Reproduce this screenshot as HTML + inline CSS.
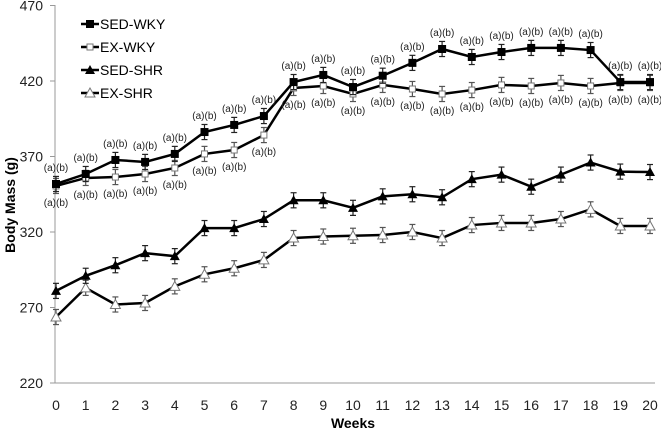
<!DOCTYPE html>
<html><head><meta charset="utf-8"><style>
body{margin:0;background:#fff}
svg{display:block;font-family:"Liberation Sans",sans-serif}
</style></head><body>
<svg id="c" width="661" height="430"></svg>
<script>
const weeks=[0,1,2,3,4,5,6,7,8,9,10,11,12,13,14,15,16,17,18,19,20];
const yTicks=[220,270,320,370,420,470];
const sedWky=[351.8,358.4,367.7,366.4,371.7,386.2,390.9,396.8,419.3,424,416,423.5,432,441.2,435.9,439.2,441.9,441.9,440.5,419.3,419.3];
const exWky=[350.5,355.8,356.4,358.4,362.4,371.7,374.3,384.2,415.4,416.7,411.4,417.4,414.7,411.4,414,417.4,416.7,418.7,416.7,418.7,418.7];
const sedShr=[281,291,298,306,304,322.6,322.6,328.6,341,341,336,343.6,345,343,355,358,350,358,366,360,359.7];
const exShr=[263.7,283,272,273,284,292,296,301.5,316,317,317.5,318,320,316,324.6,326,326,328.6,335,324,324];
const errSed=5,errEx=5;
const NS='http://www.w3.org/2000/svg';
const svg=document.getElementById('c');
const X=w=>56+w*29.7;
const Y=v=>383-(v-220)*1.51;
function mk(t,a,p){const e=document.createElementNS(NS,t);for(const k in a)e.setAttribute(k,a[k]);(p||svg).appendChild(e);return e;}
let ax=mk('line',{x1:55,y1:5,x2:55,y2:383,stroke:'#999','stroke-width':1});


let bx=mk('line',{x1:55,y1:383,x2:655,y2:383,stroke:'#999','stroke-width':1});


yTicks.forEach(v=>{
 mk('line',{x1:50,y1:Y(v),x2:55,y2:Y(v),stroke:'#999'});
 const t=mk('text',{x:43,y:Y(v)+5,'text-anchor':'end','font-size':14,fill:'#222'});t.textContent=v;
 
 
});
weeks.forEach(w=>{
 const t=mk('text',{x:X(w),y:410,'text-anchor':'middle','font-size':14,fill:'#222'});t.textContent=w;
 
 
});
let xt=mk('text',{x:353,y:428,'text-anchor':'middle','font-size':14,'font-weight':'bold'});xt.textContent='Weeks';


let yt=mk('text',{x:0,y:0,'text-anchor':'middle','font-size':14,'font-weight':'bold',transform:'translate(15,205) rotate(-90)'});yt.textContent='Body Mass  (g)';


function marker(g,type,x,y){
 if(type==='sq')mk('rect',{x:x-4,y:y-4,width:8,height:8,fill:'#000'},g);
 else if(type==='osq')mk('rect',{x:x-3,y:y-3,width:6,height:6,fill:'#fff',stroke:'#777','stroke-width':1},g);
 else if(type==='tri')mk('polygon',{points:`${x},${y-5} ${x-5},${y+4} ${x+5},${y+4}`,fill:'#000'},g);
 else mk('polygon',{points:`${x},${y-5} ${x-5},${y+4} ${x+5},${y+4}`,fill:'#fff',stroke:'#777'},g);
}
function series(name,vals,type,err,color){
 const g=mk('g',{});
 
 
 mk('polyline',{points:vals.map((v,i)=>X(weeks[i])+','+Y(v)).join(' '),fill:'none',stroke:'#000','stroke-width':2.5},g);
 vals.forEach((v,i)=>{
  const x=X(weeks[i]),y1=Y(v+err),y2=Y(v-err);
  mk('line',{x1:x,y1:y1,x2:x,y2:y2,stroke:color,'stroke-width':1.2},g);
  mk('line',{x1:x-3,y1:y1,x2:x+3,y2:y1,stroke:color,'stroke-width':1.2},g);
  mk('line',{x1:x-3,y1:y2,x2:x+3,y2:y2,stroke:color,'stroke-width':1.2},g);
  marker(g,type,x,Y(v));
 });
}
series('series-ex-shr',exShr,'otri',errEx,'#555');
series('series-sed-shr',sedShr,'tri',errSed,'#222');
series('series-ex-wky',exWky,'osq',errEx,'#555');
series('series-sed-wky',sedWky,'sq',errSed,'#222');
weeks.forEach((w,i)=>{
 const a=mk('text',{x:X(w),y:Y(sedWky[i])-13,'text-anchor':'middle','font-size':10,fill:'#222'});a.textContent='(a)(b)';
 
 
 const b=mk('text',{x:X(w),y:Y(exWky[i])+20,'text-anchor':'middle','font-size':10,fill:'#222'});b.textContent='(a)(b)';
 
 
});
const leg=[['SED-WKY','sq'],['EX-WKY','osq'],['SED-SHR','tri'],['EX-SHR','otri']];
leg.forEach((l,i)=>{
 const g=mk('g',{});
 
 
 const y=24+i*23;
 mk('line',{x1:81,y1:y,x2:99,y2:y,stroke:'#000','stroke-width':2.5},g);
 marker(g,l[1],90,y);
 const t=mk('text',{x:100,y:y+5,'font-size':14,fill:'#000'},g);t.textContent=l[0];
});
</script>
</body></html>
